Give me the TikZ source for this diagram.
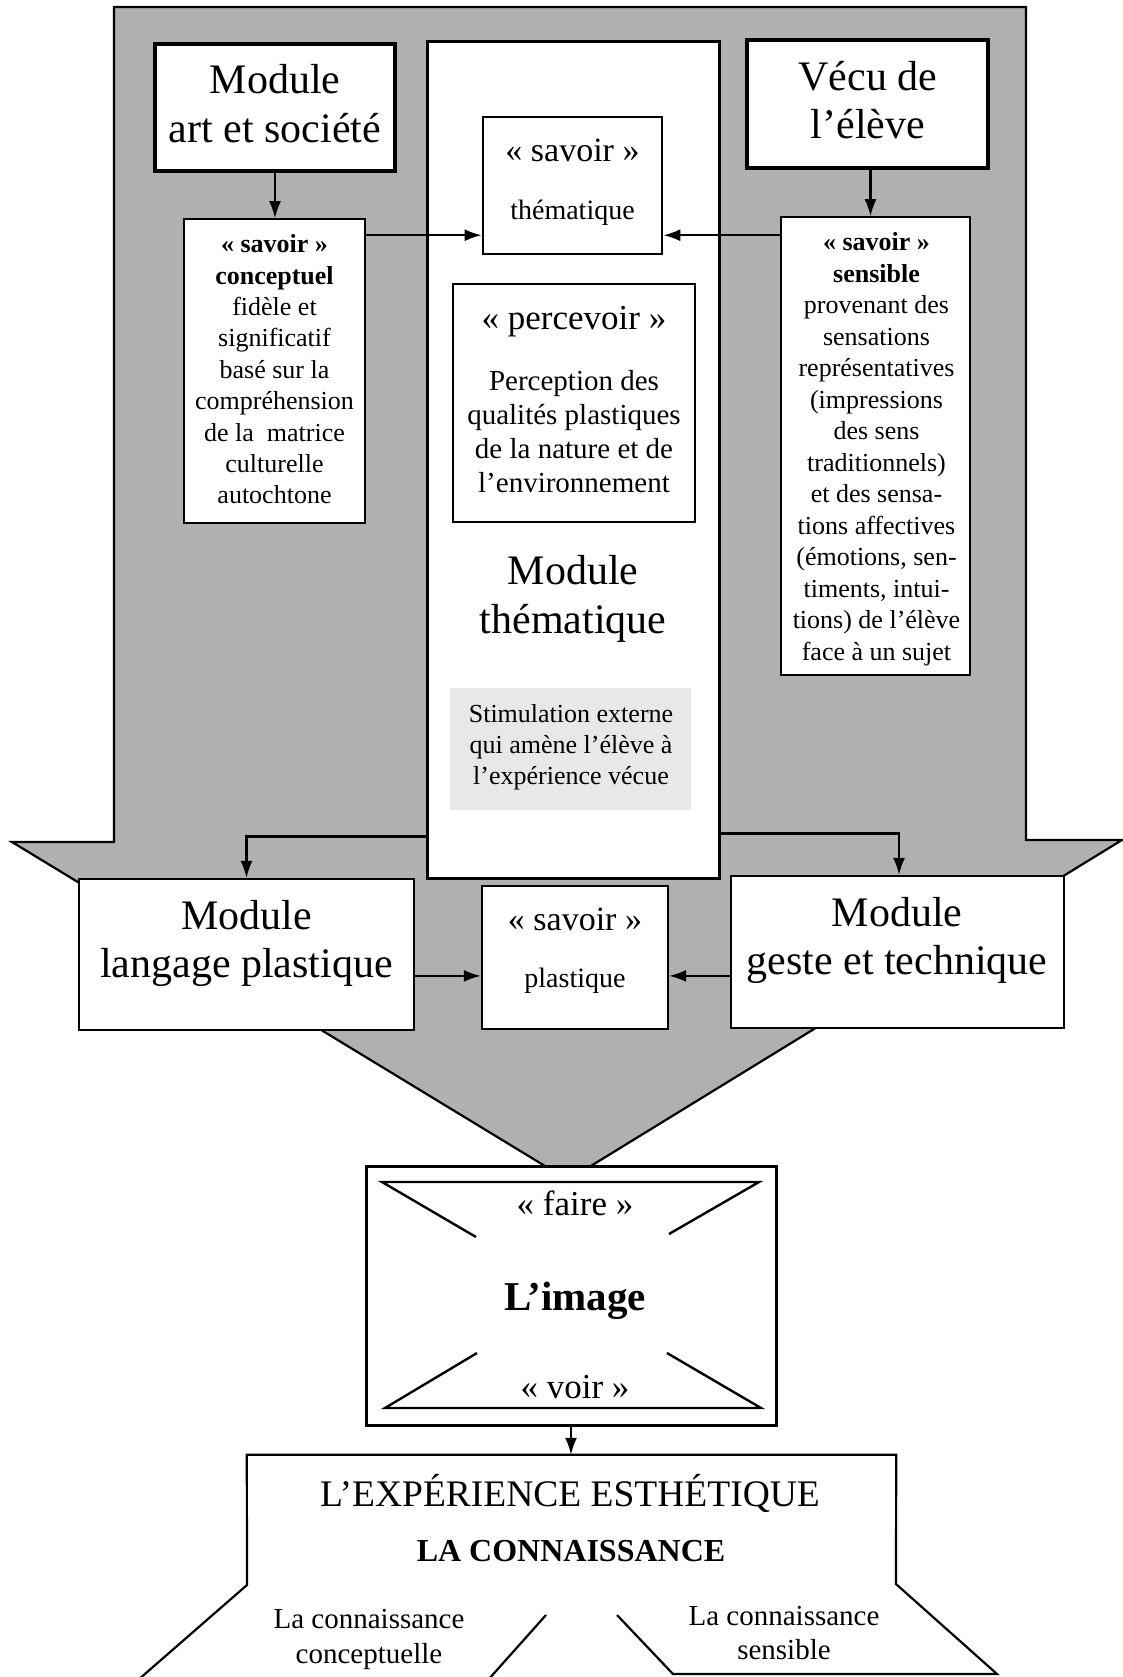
\documentclass[tikz,border=0pt]{standalone}
\usepackage{fontspec}
\setmainfont{Liberation Serif}
\usetikzlibrary{arrows.meta,calc}
\definecolor{bggray}{gray}{0.69}
\definecolor{stimgray}{gray}{0.91}
\newcommand\fsz[2]{\fontsize{#1}{#2}\selectfont}
\begin{document}
\begin{tikzpicture}[x=1pt,y=-1pt,
  box/.style={draw,fill=white,line width=#1,inner sep=0pt},
  box/.default=2pt,
  conn/.style={line width=2.2pt,-{Latex[length=17pt,width=12pt]}},
  deco/.style={line width=2.4pt},
  txt/.style={inner sep=0pt,align=center},
  big/.style={txt,font=\fsz{42}{48.5}},
  small/.style={txt,font=\fsz{26}{31.4}}
]
\fill[white] (0,0) rectangle (1123,1677);
\useasboundingbox (0,0) rectangle (1123,1677);

% big gray arrow
\filldraw[fill=bggray,draw=black,line width=2.2pt,line join=miter]
  (114,7) -- (1026,7) -- (1026,840) -- (1122,840) -- (568,1180)
  -- (12,842) -- (114,842) -- cycle;

% boxes
\node[box=3pt,minimum width=292pt,minimum height=836pt] (central) at (573,460) {};
\node[box=3.5pt,minimum width=240pt,minimum height=127pt] (art) at (275,107.5) {};
\node[box=3.5pt,minimum width=241pt,minimum height=128pt] (vecu) at (867.5,104) {};
\node[box=1.6pt,minimum width=181pt,minimum height=304pt] (concept) at (274.5,371) {};
\node[box=1.6pt,minimum width=189pt,minimum height=458pt] (sens) at (875.5,446) {};
\node[box=2.6pt,minimum width=179pt,minimum height=137pt] (them) at (572.5,185.5) {};
\node[box=2.6pt,minimum width=242pt,minimum height=238pt] (perc) at (574,403) {};
\node[fill=stimgray,inner sep=0pt,minimum width=241pt,minimum height=122pt] (stim) at (570.5,749) {};
\node[box=2.2pt,minimum width=335pt,minimum height=151pt] (lang) at (246.5,954.5) {};
\node[box=2.2pt,minimum width=186pt,minimum height=143pt] (plast) at (575,957.5) {};
\node[box=2.2pt,minimum width=333pt,minimum height=152pt] (geste) at (897.5,952) {};
\node[box=3pt,minimum width=410pt,minimum height=259pt] (img) at (571,1295.5) {};
\node[inner sep=0pt,minimum width=649pt,minimum height=130pt] (exp) at (571.5,1520) {};

% image box decoration
\draw[deco,line join=miter] (476,1237) -- (382,1182) -- (759,1182) -- (669,1234);
\draw[deco,line join=miter] (477,1353) -- (385,1408) -- (761,1408) -- (667,1353);

% experience shape
\draw[line width=2.2pt,line join=miter] (138,1680) -- (247,1585) -- (exp.north west) -- (exp.north east)
  -- (896,1584) -- (997,1674) -- (673,1674) -- (617,1615);
\draw[line width=2.2pt] (546,1615) -- (488,1680);

% connector start points
\coordinate (pv) at ($(vecu.south)+(3,0)$);
\coordinate (pc) at ($(concept.north east)+(0,17)$);
\coordinate (ps) at ($(sens.north west)+(0,19)$);
\coordinate (pl) at ($(central.south west)+(0,-43)$);
\coordinate (pg) at ($(central.south east)+(0,-46)$);
\coordinate (pgt) at ($(geste.north)+(1.5,0)$);
\coordinate (plr) at ($(lang.north east)+(0,98)$);
\coordinate (pgl) at ($(geste.north west)+(0,101)$);

% connectors
\draw[conn] (art.south) -- (art.south |- concept.north);
\draw[conn] (pv) -- (pv |- sens.north);
\draw[conn] (pc) -- (pc -| them.west);
\draw[conn] (ps) -- (ps -| them.east);
\draw[conn] (pl) -| (lang.north);
\draw[conn] (pg) -| (pgt);
\draw[conn] (plr) -- (plr -| plast.west);
\draw[conn] (pgl) -- (pgl -| plast.east);
\draw[conn] (img.south) -- (img.south |- exp.north);

% texts
\node[big] (artT) at (275,103.5) {Module\\art et société};
\node[big] (vecuT) at (868,100) {Vécu de\\l’élève};
\node[small] (conceptT) at (274.5,369.5) {\textbf{« savoir »}\\\textbf{conceptuel}\\fidèle et\\significatif\\basé sur la\\compréhension\\de la~ matrice\\culturelle\\autochtone};
\node[txt,font=\fsz{26}{31.5}] (sensT) at (876.5,449) {\textbf{« savoir »}\\\textbf{sensible}\\provenant des\\sensations\\représentatives\\(impressions\\des sens\\traditionnels)\\et des sensa-\\tions affectives\\(émotions, sen-\\timents, intui-\\tions) de l’élève\\face à un sujet};
\node[txt,anchor=base,font=\fsz{34}{40}] (themS) at (572.5,161.7) {« savoir »};
\node[txt,anchor=base,font=\fsz{28}{32}] (themT) at (572.5,220) {thématique};
\node[txt,anchor=base,font=\fsz{35}{40}] (percS) at (574,330) {« percevoir »};
\node[txt,font=\fsz{29}{34}] (percT) at (574,431.8) {Perception des\\qualités plastiques\\de la nature et de\\l’environnement};
\node[txt,font=\fsz{42}{49}] (modT) at (573,598.7) {Module\\thématique};
\node[txt,font=\fsz{26}{31}] (stimT) at (571,747.5) {Stimulation externe\\qui amène l’élève à\\l’expérience vécue};
\node[txt,font=\fsz{42}{48}] (langT) at (246.5,943.2) {Module\\langage plastique};
\node[txt,font=\fsz{42}{48}] (gesteT) at (897,940.2) {Module\\geste et technique};
\node[txt,anchor=base,font=\fsz{34}{40}] (plastS) at (575,930) {« savoir »};
\node[txt,anchor=base,font=\fsz{28}{32}] (plastT) at (575,987) {plastique};
\node[txt,anchor=base,font=\fsz{35}{40}] (faire) at (575,1215) {« faire »};
\node[txt,anchor=base,font=\fsz{41}{46}\bfseries] (imgT) at (575,1310) {L’image};
\node[txt,anchor=base,font=\fsz{35}{40}] (voir) at (575,1398) {« voir »};
\node[txt,anchor=base,font=\fsz{37.5}{42}] (expT) at (570,1506) {L’EXPÉRIENCE ESTHÉTIQUE};
\node[txt,anchor=base,font=\fsz{32}{36}\bfseries] (connT) at (571,1561) {LA CONNAISSANCE};
\node[txt,font=\fsz{29}{35}] (cconc) at (369,1639) {La connaissance\\conceptuelle};
\node[txt,font=\fsz{29}{34}] (csens) at (784,1633.1) {La connaissance\\sensible};
\end{tikzpicture}
\end{document}
